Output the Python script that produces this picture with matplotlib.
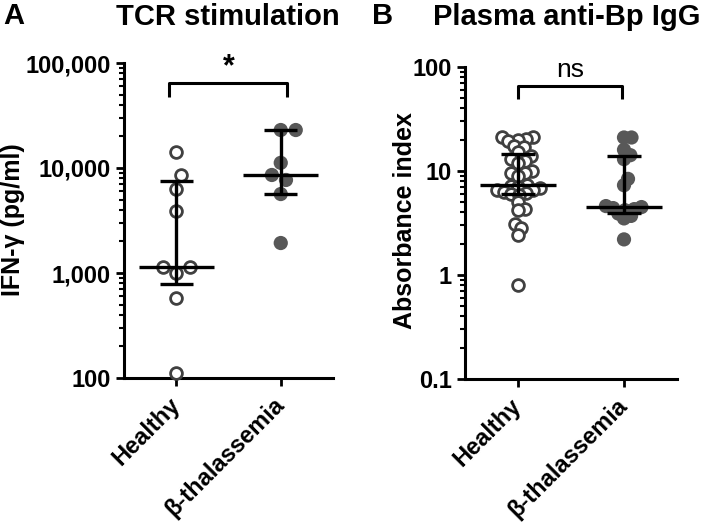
import matplotlib.pyplot as plt
import numpy as np
from matplotlib.ticker import FuncFormatter, LogLocator, NullFormatter

plt.rcParams['font.family'] = ['Liberation Sans', 'DejaVu Sans']
plt.rcParams['font.weight'] = 'bold'

groups = ["Healthy", "β-thalassemia"]

# panel A: IFN-gamma after TCR stimulation (pg/ml)
tcr_healthy = [14200, 8600, 6300, 3900, 1150, 1000, 1150, 580, 112]
tcr_thal = [23000, 23000, 11200, 8580, 7690, 5650, 1930]

# panel B: plasma anti-Bp IgG (absorbance index)
igg_healthy = [21, 21, 20.5, 20, 19.5, 17.5, 17, 15.2, 14, 13, 12.5, 12,
               10, 9.5, 9.5, 9, 7.3, 7.2, 7, 6.8, 6.6, 6.5, 6.3, 6.2, 6,
               5.9, 5, 4.3, 4.2, 3.1, 2.8, 2.4, 0.8]
igg_thal = [21, 21, 16, 14.2, 13, 8.4, 7.3, 4.6, 4.5, 4.4, 4.3, 4.2,
            3.9, 3.7, 3.5, 2.2]

W, H = 710, 523
fig = plt.figure(figsize=(W / 100, H / 100), dpi=100)


def px_rect(x0, x1, ytop, ybot):
    return [x0 / W, 1 - ybot / H, (x1 - x0) / W, (ybot - ytop) / H]


def swarm(ax, vals, d_px):
    # simple beeswarm: offsets in pixels, converted to data units
    pts = ax.transData.transform(np.column_stack([np.zeros(len(vals)), vals]))
    ys = pts[:, 1]
    placed = []
    offs = np.zeros(len(vals))
    for i in np.argsort(ys):
        y = ys[i]
        cands = [0.0]
        for px, py in placed:
            dy = y - py
            if abs(dy) < d_px:
                dx = np.sqrt(d_px ** 2 - dy ** 2)
                cands += [px + dx, px - dx]
        cands.sort(key=abs)
        for c in cands:
            if all((c - px) ** 2 + (y - py) ** 2 >= d_px ** 2 - 1e-6 for px, py in placed):
                offs[i] = c
                break
        placed.append((offs[i], y))
    bb = ax.get_window_extent()
    x0, x1 = ax.get_xlim()
    return offs * (x1 - x0) / bb.width


def panel(ax, data, ylim, fmt, d_px):
    ax.set_yscale('log')
    ax.set_ylim(*ylim)
    ax.set_xlim(-0.5, 1.5)
    for sp in ['top', 'right']:
        ax.spines[sp].set_visible(False)
    for sp in ['left', 'bottom']:
        ax.spines[sp].set_linewidth(2.2)
    ax.yaxis.set_major_locator(LogLocator(base=10, numticks=10))
    ax.yaxis.set_minor_locator(LogLocator(base=10, subs=np.arange(2, 10), numticks=10))
    ax.yaxis.set_major_formatter(FuncFormatter(fmt))
    ax.yaxis.set_minor_formatter(NullFormatter())
    ax.tick_params(axis='both', which='major', length=6, width=2, labelsize=17)
    ax.tick_params(axis='y', which='minor', length=3.5, width=1.5)
    ax.tick_params(axis='x', which='major', pad=11)
    ax.set_xticks([0, 1])
    ax.set_xticklabels(groups, rotation=45, ha='right', va='center',
                       rotation_mode='anchor', fontsize=17)
    styles = [dict(facecolor='white', edgecolor='#404040', linewidths=2.0, s=72),
              dict(facecolor='#585858', edgecolor='none', s=105)]
    for i, vals in enumerate(data):
        vals = np.array(vals, dtype=float)
        xs = i + swarm(ax, vals, d_px)
        ax.scatter(xs, vals, zorder=3, clip_on=False, **styles[i])
        q1, med, q3 = np.percentile(vals, [25, 50, 75], method='weibull')
        kw = dict(color='black', lw=2.4, solid_capstyle='butt', zorder=4)
        ax.plot([i - 0.36, i + 0.36], [med, med], **kw)
        ax.plot([i, i], [q1, q3], **kw)
        ax.plot([i - 0.16, i + 0.16], [q1, q1], **kw)
        ax.plot([i - 0.16, i + 0.16], [q3, q3], **kw)


axA = fig.add_axes(px_rect(124, 333, 63, 378))
panel(axA, [tcr_healthy, tcr_thal], (100, 100000), lambda v, p: f"{v:,.0f}", 15.0)
axB = fig.add_axes(px_rect(465, 677, 67, 379))
panel(axB, [igg_healthy, igg_thal], (0.1, 100), lambda v, p: f"{v:g}", 7.5)

# significance brackets
br = dict(color='black', lw=2.2, solid_capstyle='butt', clip_on=False)
axA.plot([-0.07, -0.07, 1.06, 1.06], [47000, 65000, 65000, 47000], **br)
axA.text(0.5, 66000, "*", ha='center', va='bottom', fontsize=22)
axB.plot([0.0, 0.0, 0.98, 0.98], [49, 65.6, 65.6, 49], **br)
axB.text(0.49, 72, "ns", ha='center', va='bottom', fontsize=19, fontweight='normal')

# titles, panel letters and axis labels
fig.text(3 / W, 1 - 24 / H, "A", ha='left', va='baseline', fontsize=21)
fig.text(228 / W, 1 - 25 / H, "TCR stimulation", ha='center', va='baseline', fontsize=21)
fig.text(372 / W, 1 - 24 / H, "B", ha='left', va='baseline', fontsize=21)
fig.text(567 / W, 1 - 25 / H, "Plasma anti-Bp IgG", ha='center', va='baseline', fontsize=21)
fig.text(13 / W, 1 - 220 / H, "IFN-γ (pg/ml)", rotation=90, ha='center', va='center', fontsize=18)
fig.text(405 / W, 1 - 221 / H, "Absorbance index", rotation=90, ha='center', va='center', fontsize=18)

fig.savefig("out.png", dpi=100)
